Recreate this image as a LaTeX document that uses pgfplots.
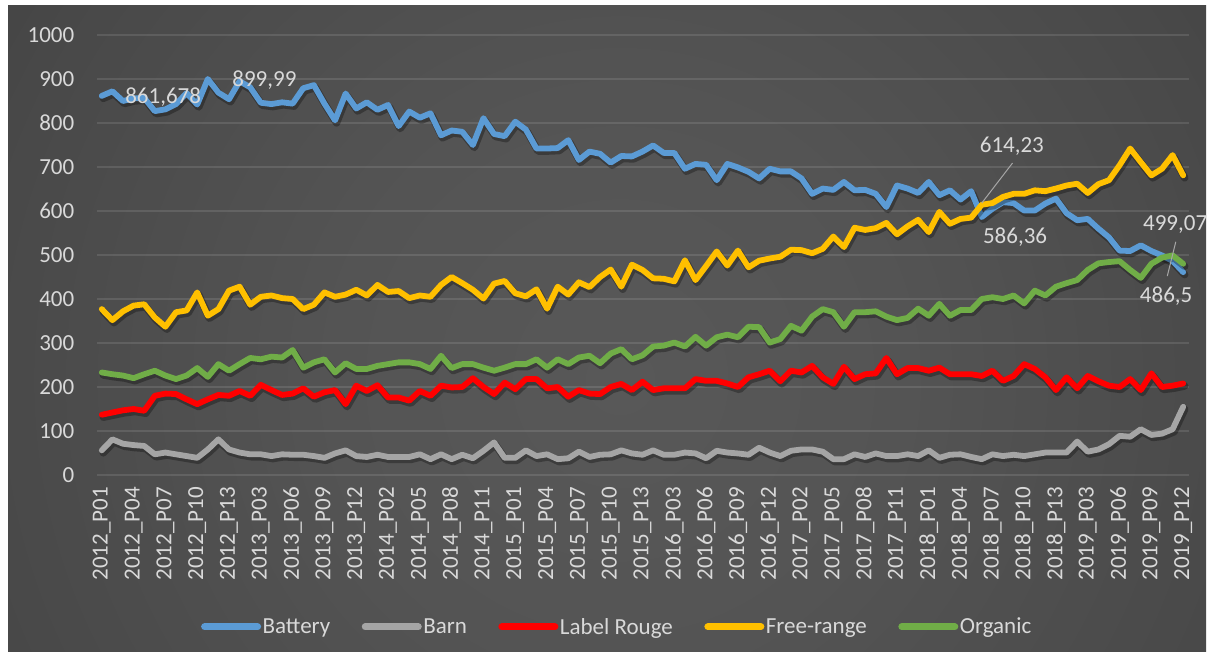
\documentclass[border=0pt]{standalone}
\usepackage{fontspec}
\setmainfont{Carlito}
\usepackage{pgfplots}
\pgfplotsset{compat=1.18}
\usepackage{pgfplotstable}

\definecolor{cBat}{HTML}{5B9BD5}
\definecolor{cBarn}{HTML}{A5A5A5}
\definecolor{cRouge}{HTML}{FF0000}
\definecolor{cFree}{HTML}{FFC000}
\definecolor{cOrg}{HTML}{70AD47}
\definecolor{txt}{HTML}{D9D9D9}
\definecolor{leadc}{HTML}{A6A6A6}

\pgfdeclareradialshading{bgshade}{\pgfpoint{0bp}{0bp}}{rgb(0bp)=(0.345,0.345,0.345); rgb(10bp)=(0.33,0.33,0.33); rgb(23bp)=(0.285,0.285,0.285); rgb(43bp)=(0.19,0.19,0.19); rgb(50bp)=(0.155,0.155,0.155); rgb(71bp)=(0.14,0.14,0.14)}

\pgfplotstableread{
i bat barn rouge free org
0 861.678 56 137 377 233
1 872 81 142 352 229
2 850 71 147 372 226
3 856 68 150 385 220
4 857 66 146 388 229
5 827 47 180 358 237
6 831 51 185 337 226
7 843 47 184 370 218
8 868 43 172 374 226
9 842 39 161 415 243
10 899.99 58 172 362 223
11 869 81 182 377 252
12 854 58 180 419 237
13 895 51 191 428 252
14 881 47 180 387 266
15 846 47 205 405 263
16 843 43 193 408 269
17 847 47 182 402 267
18 844 46 185 400 284
19 879 46 197 377 244
20 886 43 178 387 256
21 844 39 188 415 263
22 806 49 193 405 233
23 867 56 161 410 254
24 833 43 203 421 241
25 847 41 191 408 241
26 830 46 204 432 248
27 841 41 176 416 252
28 793 41 176 418 256
29 826 41 169 402 256
30 812 47 191 408 252
31 822 36 180 405 241
32 772 47 203 432 271
33 783 36 199 450 243
34 780 46 200 436 252
35 750 38 220 421 252
36 811 55 200 401 244
37 775 74 184 435 237
38 770 39 210 441 244
39 803 39 195 413 252
40 785 56 218 406 252
41 742 43 218 422 263
42 742 47 197 378 244
43 743 36 200 428 263
44 761 38 178 410 252
45 716 53 193 438 267
46 735 41 185 427 271
47 730 46 184 450 254
48 710 47 200 467 276
49 725 56 207 428 286
50 724 49 193 478 263
51 735 46 212 466 272
52 749 56 193 447 292
53 732 46 197 446 294
54 732 46 197 440 301
55 696 51 197 488 292
56 707 49 218 443 314
57 705 38 214 475 294
58 670 55 214 508 313
59 707 51 208 476 319
60 699 49 200 510 313
61 689 46 222 472 337
62 674 62 229 487 336
63 696 51 237 492 301
64 690 43 213 496 309
65 690 55 237 512 339
66 674 58 233 511 328
67 639 58 248 504 360
68 651 53 222 514 377
69 648 36 207 542 370
70 666 36 246 518 337
71 647 47 218 562 370
72 648 41 229 557 370
73 639 49 231 561 372
74 609 43 266 573 360
75 658 43 229 547 352
76 651 47 243 565 357
77 641 43 243 580 378
78 666 56 237 552 362
79 636 39 244 598 389
80 647 46 229 571 362
81 626 47 229 582 375
82 645 41 229 585 375
83 586.36 36 225 614.23 400
84 605 47 237 618 404
85 620 43 214 632 400
86 618 46 225 639 408
87 601 43 252 639 390
88 601 47 241 647 419
89 617 51 222 645 408
90 628 51 193 651 428
91 595 51 222 658 436
92 579 76 197 662 443
93 582 53 225 641 466
94 560 58 213 661 481
95 540 70 203 670 484
96 510 89 200 704 486
97 509 87 218 742 466
98 522 104 193 711 448
99 509 91 231 681 480
100 499 94 200 696 494
101 486.5 104 203 727 499.07
102 461 155 208 681 480
}\datatable

\begin{document}
\begin{tikzpicture}[font=\fontsize{23bp}{27bp}\selectfont]
\useasboundingbox (0,0) rectangle (1214bp,659bp);
\fill[white] (0,0) rectangle (1214bp,659bp);
\begin{scope}
\clip (8bp,7bp) rectangle (1206bp,653bp);
\shade[shading=bgshade] (-80bp,-421bp) rectangle (1320bp,979bp);
\end{scope}
\begin{axis}[
  at={(96.5bp,184bp)}, anchor=south west,
  width=1092bp, height=440bp, scale only axis,
  xmin=-0.5, xmax=102.5, ymin=0, ymax=1000,
  ytick={0,100,...,1000},
  xtick={0,3,...,102},
  xticklabels={2012\_P01,2012\_P04,2012\_P07,2012\_P10,2012\_P13,2013\_P03,2013\_P06,2013\_P09,2013\_P12,2014\_P02,2014\_P05,2014\_P08,2014\_P11,2015\_P01,2015\_P04,2015\_P07,2015\_P10,2015\_P13,2016\_P03,2016\_P06,2016\_P09,2016\_P12,2017\_P02,2017\_P05,2017\_P08,2017\_P11,2018\_P01,2018\_P04,2018\_P07,2018\_P10,2018\_P13,2019\_P03,2019\_P06,2019\_P09,2019\_P12},
  axis line style={draw=none},
  major tick length=0pt, tick style={draw=none},
  ymajorgrids, grid style={white, opacity=0.11, line width=1.2bp},
  tick label style={text=txt, font=\fontsize{23bp}{27bp}\selectfont},
  xticklabel style={rotate=90, anchor=east, inner sep=0pt},
  yticklabel style={anchor=east, inner sep=0pt},
  xticklabel shift=12bp, yticklabel shift=22bp,
  /pgf/number format/.cd, 1000 sep={}, assume math mode=true, /pgfplots/.cd,
  clip=false,
  legend style={at={(0.4766,-0.345)}, anchor=center, draw=none, fill=none,
    legend columns=-1,
    /tikz/every even column/.append style={column sep=30bp},
    nodes={text=txt, inner sep=1.5bp, font=\fontsize{23bp}{27bp}\selectfont}},
  legend image code/.code={\draw[#1, line width=7bp, line cap=round] (0bp,0bp) -- (53bp,0bp);},
  shadow/.style={black, opacity=0.3, line width=7.5bp, xshift=1.5bp, yshift=-2.5bp, forget plot, line join=round, line cap=round, mark=none},
  ser/.style={line width=5.8bp, line join=round, line cap=round, mark=none},
]
\addplot[shadow] table[x=i, y=bat] {\datatable};
\addplot[ser, cBat] table[x=i, y=bat] {\datatable};
\addlegendentry{Battery}
\addplot[shadow] table[x=i, y=barn] {\datatable};
\addplot[ser, cBarn] table[x=i, y=barn] {\datatable};
\addlegendentry{Barn}
\addplot[shadow] table[x=i, y=rouge] {\datatable};
\addplot[ser, cRouge] table[x=i, y=rouge] {\datatable};
\addlegendentry{Label Rouge}
\addplot[shadow] table[x=i, y=free] {\datatable};
\addplot[ser, cFree] table[x=i, y=free] {\datatable};
\addlegendentry{Free-range}
\addplot[shadow] table[x=i, y=org] {\datatable};
\addplot[ser, cOrg] table[x=i, y=org] {\datatable};
\addlegendentry{Organic}

\node[anchor=west, inner sep=0pt, text=txt] at (axis cs:2.2,859) {861,678};
\node[anchor=west, inner sep=0pt, text=txt] at (axis cs:12.3,898) {899,99};
\node[anchor=west, inner sep=0pt, text=txt] at (axis cs:82.8,748) {614,23};
\node[anchor=west, inner sep=0pt, text=txt] at (axis cs:83.1,541) {586,36};
\node[anchor=west, inner sep=0pt, text=txt] at (axis cs:98.2,570) {499,07};
\node[anchor=west, inner sep=0pt, text=txt] at (axis cs:97.9,407) {486,5};
\draw[leadc, line width=1bp] (axis cs:85.9,709) -- (axis cs:83.0,618);
\draw[leadc, line width=1bp] (axis cs:100.5,452) -- (axis cs:101.3,530);
\end{axis}
\end{tikzpicture}
\end{document}
